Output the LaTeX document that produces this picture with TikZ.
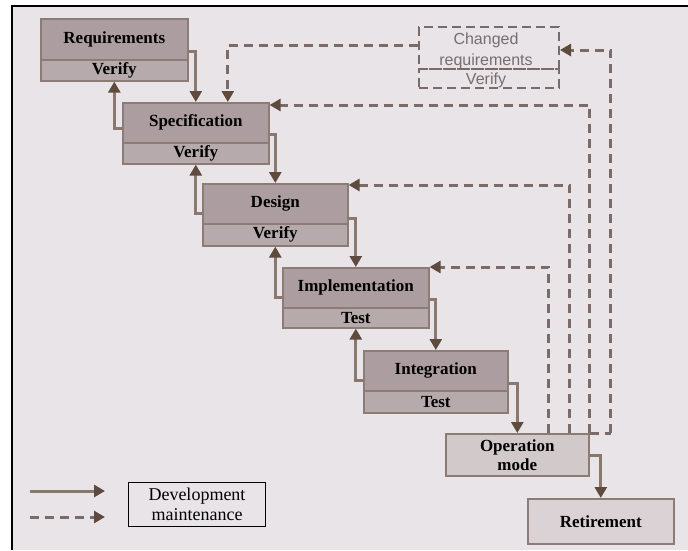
\documentclass[tikz,border=0pt]{standalone}
\usepackage{fontspec}
\setmainfont{Liberation Serif}
\newfontfamily\sansf{Liberation Sans}
\usetikzlibrary{arrows.meta}
\definecolor{bgc}{HTML}{E8E4E7}
\definecolor{boxfill}{HTML}{AC9EA0}
\definecolor{boxfillb}{HTML}{B6AAAC}
\definecolor{boxline}{HTML}{8C7C76}
\definecolor{opfill}{HTML}{D2C9CB}
\definecolor{retfill}{HTML}{DAD2D4}
\definecolor{devc}{HTML}{8A786E}
\definecolor{arrc}{HTML}{5E4B3E}
\definecolor{mntc}{HTML}{7A6A68}
\definecolor{chgc}{HTML}{786D6E}
\tikzset{
  partbox/.style={draw=boxline, line width=1.6pt, inner sep=0pt, anchor=north west,
    font=\fontsize{17}{19}\selectfont\bfseries, text=black},
  uppart/.style={partbox, fill=boxfill},
  lowpart/.style={partbox, fill=boxfillb},
  chgbox/.style={draw=mntc, dash pattern=on 9pt off 5pt, line width=2pt, inner sep=0pt,
    anchor=north west},
  chgtext/.style={font=\sansf\fontsize{16}{18}\selectfont, text=chgc, inner sep=0pt},
  devarrow/.style={draw=devc, line width=3pt,
    -{Triangle[length=11pt,width=12pt,color=arrc]}},
  mntarrow/.style={draw=mntc, line width=3pt, dash pattern=on 9pt off 6pt,
    -{Triangle[length=11pt,width=12pt,color=arrc]}},
  mntline/.style={draw=mntc, line width=3pt, dash pattern=on 9pt off 6pt},
}
\begin{document}
\begin{tikzpicture}[x=1pt,y=-1pt]
\useasboundingbox (0,0) rectangle (688,550);
\fill[white] (0,0) rectangle (688,550);
\fill[bgc] (12,6) rectangle (688,550);
\draw[black, line width=1.5pt] (12,550) -- (12,6) -- (688,6);

% stages
\node[uppart, minimum width=147pt, minimum height=41pt] (reqT) at (40,18) {Requirements};
\node[lowpart, minimum width=147pt, minimum height=21pt] (reqB) at (40,59) {Verify};
\node[uppart, minimum width=146pt, minimum height=40pt] (specT) at (122,102) {Specification};
\node[lowpart, minimum width=146pt, minimum height=21pt] (specB) at (122,142) {Verify};
\node[uppart, minimum width=145pt, minimum height=40pt] (desT) at (202,183) {Design};
\node[lowpart, minimum width=145pt, minimum height=22pt] (desB) at (202,223) {Verify};
\node[uppart, minimum width=146pt, minimum height=40pt] (implT) at (282,267) {Implementation};
\node[lowpart, minimum width=146pt, minimum height=20pt] (implB) at (282,307) {Test};
\node[uppart, minimum width=144pt, minimum height=40pt] (integT) at (363,350) {Integration};
\node[lowpart, minimum width=144pt, minimum height=22pt] (integB) at (363,390) {Test};
\node[partbox, fill=opfill, minimum width=143pt, minimum height=42pt, align=center,
  font=\fontsize{17}{19}\selectfont\bfseries] (op) at (445,433) {Operation\\mode};
\node[partbox, fill=retfill, minimum width=146pt, minimum height=45pt] (ret) at (527,498) {Retirement};

% changed requirements
\node[chgbox, minimum width=140pt, minimum height=42pt] (chgT) at (418,26) {};
\node[chgbox, minimum width=140pt, minimum height=19pt] (chgB) at (418,68) {};
\node[chgtext] (chg1) at (486,40) {Changed};
\node[chgtext] (chg2) at (486,61) {requirements};
\node[chgtext] (chg3) at (486,80) {Verify};

% development (solid) connectors
\draw[devarrow] ([yshift=9pt]reqT.south east) -| (specT.north);
\draw[devarrow] ([yshift=-6pt]specT.west) -| (reqB.south);
\draw[devarrow] ([yshift=9pt]specT.south east) -| (desT.north);
\draw[devarrow] ([yshift=-10pt]desT.west) -| (specB.south);
\draw[devarrow] ([yshift=6pt]desT.south east) -| (implT.north);
\draw[devarrow] ([yshift=-10pt]implT.west) -| (desB.south);
\draw[devarrow] ([yshift=9pt]implT.south east) -| (integT.north);
\draw[devarrow] ([yshift=-10pt]integT.west) -| (implB.south);
\draw[devarrow] ([yshift=8pt]integT.south east) -| (op.north);
\draw[devarrow] ([yshift=-1pt]op.east) -| (ret.north);

% maintenance (dashed) connectors
\coordinate (m1) at ([xshift=-41pt]op.north east);
\coordinate (m2) at ([xshift=-20pt]op.north east);
\coordinate (m4) at ([xshift=21pt]op.north east);
\draw[mntarrow] (m1) |- (implT.north east);
\draw[mntarrow] (m2) |- ([yshift=-2pt]desT.north east);
\draw[mntarrow] (op.north east) |- ([yshift=-3pt]specT.north east);
\draw[mntline] (op.north east) -- (m4);
\draw[mntarrow] (m4) |- ([yshift=-2pt]chgT.east);
\draw[mntarrow] ([yshift=3pt]chgT.west) -| ([xshift=32pt]specT.north);

% legend
\coordinate (ls1) at (30,491);
\coordinate (le1) at (105,491);
\coordinate (ls2) at (30,517);
\coordinate (le2) at (105,517);
\draw[devarrow] (ls1) -- (le1);
\draw[mntarrow] (ls2) -- (le2);
\node[draw=black, line width=1pt, anchor=north west, minimum width=137pt, minimum height=44pt,
  inner sep=0pt, align=center, font=\fontsize{18}{20}\selectfont] (leg) at (128,482) {Development\\maintenance};
\end{tikzpicture}
\end{document}
